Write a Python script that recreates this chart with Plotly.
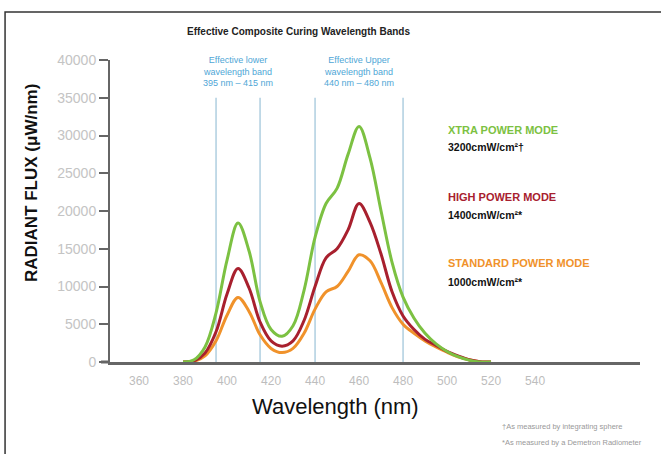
import plotly.graph_objects as go

# ---- data ----
wavelength = [380, 385, 390, 395, 400, 405, 410, 415, 420, 425, 430, 435, 440, 445,
              450, 455, 460, 465, 470, 475, 480, 485, 490, 495, 500, 505, 510, 515, 520]
xtra_power = [0, 300, 2000, 6500, 13500, 18400, 14700, 8000, 4300, 3400, 4800, 9500, 16500, 21000,
              23000, 27500, 31200, 27000, 20000, 13200, 8600, 5800, 3800, 2400, 1400, 700, 250, 0, 0]
high_power = [0, 150, 1200, 4000, 9000, 12400, 9800, 5300, 2800, 2100, 2800, 5500, 10000, 13800,
              15000, 17500, 21000, 18500, 14300, 9300, 6100, 4300, 3000, 2200, 1400, 800, 300, 50, 0]
std_power = [0, 100, 800, 2800, 6200, 8550, 6700, 3600, 1800, 1250, 1800, 3800, 7000, 9300,
             10000, 12000, 14200, 13400, 10500, 7200, 5000, 3800, 2800, 2000, 1300, 700, 300, 50, 0]

x_ticks = [360, 380, 400, 420, 440, 460, 480, 500, 520, 540]
y_ticks = [0, 5000, 10000, 15000, 20000, 25000, 30000, 35000, 40000]
band_lines = [395, 415, 440, 480]
band_label_x = [405, 460]
band_labels = ["Effective lower<br>wavelength band<br>395 nm – 415 nm",
               "Effective Upper<br>wavelength band<br>440 nm – 480 nm"]

GREEN = "#7cc142"
RED = "#a8202e"
ORANGE = "#f0922b"
BLUE_TXT = "#4fa6d6"
BLUE_LINE = "#a3c7db"
FONT = "Liberation Sans, Arial, sans-serif"

fig = go.Figure()
for y, c, n in [(std_power, ORANGE, "STANDARD POWER MODE"),
                (high_power, RED, "HIGH POWER MODE"),
                (xtra_power, GREEN, "XTRA POWER MODE")]:
    fig.add_trace(go.Scatter(x=wavelength, y=y, mode="lines", name=n,
                             line=dict(color=c, width=3, shape="spline", smoothing=1.0)))

shapes = []
for b in band_lines:
    shapes.append(dict(type="line", xref="x", yref="y", x0=b, x1=b, y0=0, y1=35000,
                       line=dict(color=BLUE_LINE, width=1.3), layer="below"))
# short extension of the x axis line to the left of the y axis
shapes.append(dict(type="line", xref="paper", yref="paper", x0=-0.017, x1=0, y0=0, y1=0,
                   line=dict(color="#666", width=3)))
# outer frame of the graphic
shapes.append(dict(type="rect", xref="paper", yref="paper", x0=-0.198, x1=1.06,
                   y0=-0.36, y1=1.159, line=dict(color="#333", width=1.5)))

ann = []
ann.append(dict(text="<b>Effective Composite Curing Wavelength Bands</b>", xref="paper", yref="paper",
                x=0.3555, y=1.093, xanchor="center", yanchor="middle", showarrow=False,
                font=dict(family=FONT, size=10, color="#222")))
for bx, bt in zip(band_label_x, band_labels):
    ann.append(dict(text=bt, xref="x", yref="paper", x=bx, y=0.962, xanchor="center", yanchor="middle",
                    showarrow=False, font=dict(family=FONT, size=9, color=BLUE_TXT), align="center"))
legend_items = [("XTRA POWER MODE", "3200cmW/cm²†", GREEN, 0.768, 0.712),
                ("HIGH POWER MODE", "1400cmW/cm²*", RED, 0.546, 0.487),
                ("STANDARD POWER MODE", "1000cmW/cm²*", ORANGE, 0.328, 0.265)]
for t1, t2, c, y1, y2 in legend_items:
    ann.append(dict(text="<b>" + t1 + "</b>", xref="paper", yref="paper", x=0.634, y=y1,
                    xanchor="left", yanchor="middle", showarrow=False,
                    font=dict(family=FONT, size=11, color=c)))
    ann.append(dict(text="<b>" + t2 + "</b>", xref="paper", yref="paper", x=0.634, y=y2,
                    xanchor="left", yanchor="middle", showarrow=False,
                    font=dict(family=FONT, size=10.5, color="#111")))
ann.append(dict(text="Wavelength (nm)", xref="paper", yref="paper", x=0.426, y=-0.149,
                xanchor="center", yanchor="middle", showarrow=False,
                font=dict(family=FONT, size=22, color="#111")))
ann.append(dict(text="<b>RADIANT FLUX (μW/nm)</b>", xref="paper", yref="paper", x=-0.147, y=0.593,
                xanchor="center", yanchor="middle", textangle=-90, showarrow=False,
                font=dict(family=FONT, size=17, color="#111")))
ann.append(dict(text="†As measured by integrating sphere", xref="paper", yref="paper", x=0.736, y=-0.215,
                xanchor="left", yanchor="middle", showarrow=False,
                font=dict(family=FONT, size=7.5, color="#999")))
ann.append(dict(text="*As measured by a Demetron Radiometer", xref="paper", yref="paper", x=0.736, y=-0.265,
                xanchor="left", yanchor="middle", showarrow=False,
                font=dict(family=FONT, size=7.5, color="#999")))

fig.update_layout(
    width=661, height=454,
    margin=dict(l=110, r=21, t=60, b=92),
    paper_bgcolor="white", plot_bgcolor="white",
    showlegend=False,
    shapes=shapes, annotations=ann,
    xaxis=dict(range=[346.8, 587.7], tickvals=x_ticks, ticktext=[str(v) for v in x_ticks],
               showgrid=False, zeroline=False, showline=True, linecolor="#666", linewidth=3,
               ticks="", ticklabelstandoff=6,
               tickfont=dict(family=FONT, size=12, color="#bdbdbd")),
    yaxis=dict(range=[0, 40000], tickvals=y_ticks, ticktext=[str(v) for v in y_ticks],
               showgrid=False, zeroline=False, showline=True, linecolor="#666", linewidth=2,
               ticks="outside", ticklen=9, tickwidth=2, tickcolor="#666",
               tickfont=dict(family=FONT, size=14, color="#c4c4c4")),
)

fig.write_html("out.html", config={"displayModeBar": False},
               post_script="document.body.style.margin='0';")
